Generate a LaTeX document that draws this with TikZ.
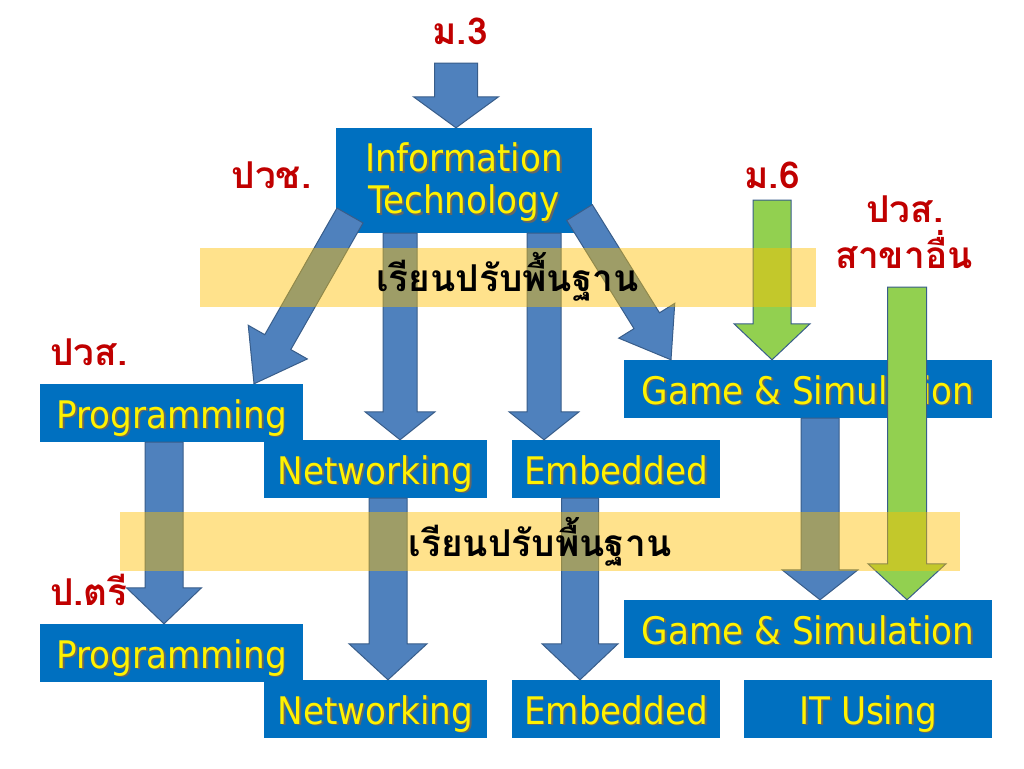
\documentclass[tikz,border=0pt]{standalone}
\usepackage{fontspec}
\usetikzlibrary{calc}
\newfontfamily\enfont[FakeStretch=0.9]{DejaVu Sans}
\newfontfamily\thaifont[Script=Thai]{Loma}
\definecolor{boxblue}{HTML}{0070C0}
\definecolor{arrblue}{HTML}{4F81BD}
\definecolor{arredge}{HTML}{385D8A}
\definecolor{arrgreen}{HTML}{92D050}
\definecolor{bandyel}{HTML}{FFC000}
\definecolor{lblred}{HTML}{C00000}
\newcommand\shd[1]{\leavevmode\rlap{\hspace{1.8pt}\raisebox{-1.8pt}{\textcolor{black!60}{#1}}}#1}
% #1 style, #2 tail, #3 tip, #4 half shaft, #5 half head, #6 head length
\newcommand\blockarrow[6]{%
  \coordinate (bxn) at ($(#3)!#6!(#2)$);
  \draw[#1] ($(#2)!#4!90:(#3)$) -- ($(bxn)!#4!90:(#3)$) -- ($(bxn)!#5!90:(#3)$) -- (#3)
    -- ($(bxn)!#5!-90:(#3)$) -- ($(bxn)!#4!-90:(#3)$) -- ($(#2)!#4!-90:(#3)$) -- cycle;}
\tikzset{
 box/.style={fill=boxblue, inner sep=0pt, text=yellow, font=\enfont\fontsize{38}{42}\selectfont, text height=30pt, text depth=0pt},
 barrow/.style={fill=arrblue, draw=arredge, line width=1pt, line join=miter},
 garrow/.style={fill=arrgreen, draw=arredge, line width=1pt, line join=miter},
 band/.style={fill=bandyel, fill opacity=0.45, draw=none, inner sep=0pt},
 bandtext/.style={font=\thaifont\bfseries\fontsize{37}{40}\selectfont, text=black, inner sep=0pt, anchor=base},
 redlbl/.style={font=\thaifont\bfseries\fontsize{37}{40}\selectfont, text=lblred, inner sep=0pt, anchor=base},
}
\begin{document}
\begin{tikzpicture}[x=1pt,y=-1pt]
\useasboundingbox (0,0) rectangle (1024,768);
\fill[white] (0,0) rectangle (1024,768);
% boxes
\node[box, minimum width=256pt, minimum height=105pt] (it) at (464,180.5) {};
\node[text=yellow, inner sep=0pt, align=center, font=\enfont\fontsize{38}{42}\selectfont] (ittext) at (464,183) {\shd{Information}\\\shd{Technology}};
\node[box, minimum width=263pt, minimum height=58pt] (prog1) at (171.5,413) {\shd{Programming}};
\node[box, minimum width=223pt, minimum height=58pt] (net1) at (375.5,469) {\shd{Networking}};
\node[box, minimum width=208pt, minimum height=58pt] (emb1) at (616,469) {\shd{Embedded}};
\node[box, minimum width=368pt, minimum height=58pt] (gs1) at (808,389) {\shd{Game \& Simulation}};
\node[box, minimum width=263pt, minimum height=58pt] (prog2) at (171.5,653) {\shd{Programming}};
\node[box, minimum width=223pt, minimum height=58pt] (net2) at (375.5,709) {\shd{Networking}};
\node[box, minimum width=208pt, minimum height=58pt] (emb2) at (616,709) {\shd{Embedded}};
\node[box, minimum width=368pt, minimum height=58pt] (gs2) at (808,629) {\shd{Game \& Simulation}};
\node[box, minimum width=248pt, minimum height=58pt] (itu) at (868,709) {\shd{IT Using}};
% arrow coordinates
\coordinate (a0s) at (456,63);   \coordinate (a0t) at (a0s |- it.north);
\coordinate (a1s) at (350,215.5); \coordinate (a1x) at (254,0); \coordinate (a1t) at (a1x |- prog1.north);
\coordinate (a2s) at (579.5,212.5); \coordinate (a2x) at (671,0); \coordinate (a2t) at (a2x |- gs1.north);
\coordinate (x3) at (400,0); \coordinate (a3s) at (x3 |- it.south); \coordinate (a3t) at (x3 |- net1.north);
\coordinate (x4) at (544,0); \coordinate (a4s) at (x4 |- it.south); \coordinate (a4t) at (x4 |- emb1.north);
\coordinate (x5) at (164,0); \coordinate (a5s) at (x5 |- prog1.south); \coordinate (a5t) at (x5 |- prog2.north);
\coordinate (x6) at (388,0); \coordinate (a6s) at (x6 |- net1.south); \coordinate (a6t) at (x6 |- net2.north);
\coordinate (x7) at (580,0); \coordinate (a7s) at (x7 |- emb1.south); \coordinate (a7t) at (x7 |- emb2.north);
\coordinate (x8) at (820,0); \coordinate (a8s) at (x8 |- gs1.south); \coordinate (a8t) at (x8 |- gs2.north);
\coordinate (a9s) at (772,200); \coordinate (a9t) at (a9s |- gs1.north);
\coordinate (a10s) at (907,287); \coordinate (a10t) at (a10s |- gs2.north);
% blue arrows
\blockarrow{barrow}{a0s}{a0t}{21.5pt}{42.5pt}{31pt}
\blockarrow{barrow}{a1s}{a1t}{15pt}{34pt}{48pt}
\blockarrow{barrow}{a2s}{a2t}{15pt}{33pt}{46pt}
\blockarrow{barrow}{a3s}{a3t}{17pt}{35pt}{28pt}
\blockarrow{barrow}{a4s}{a4t}{17pt}{35pt}{28pt}
\blockarrow{barrow}{a5s}{a5t}{19pt}{37.5pt}{36pt}
\blockarrow{barrow}{a6s}{a6t}{19pt}{39pt}{36pt}
\blockarrow{barrow}{a7s}{a7t}{18.5pt}{38pt}{36pt}
\blockarrow{barrow}{a8s}{a8t}{19pt}{38pt}{30pt}
% green arrows
\blockarrow{garrow}{a9s}{a9t}{19pt}{38pt}{36pt}
\blockarrow{garrow}{a10s}{a10t}{19.5pt}{39pt}{36pt}
% bands
\node[band, minimum width=616pt, minimum height=59pt] (band1) at (508,277.5) {};
\node[band, minimum width=840pt, minimum height=59pt] (band2) at (540,541.5) {};
\node[bandtext] (bt1) at (507.5,291) {เรียนปรับพื้นฐาน};
\node[bandtext] (bt2) at (540,556) {เรียนปรับพื้นฐาน};
% red labels
\node[redlbl] (m3) at (460,45) {ม.3};
\node[redlbl] (pvch) at (271.5,188) {ปวช.};
\node[redlbl] (m6) at (772,188) {ม.6};
\node[redlbl] (pvs2) at (905,222) {ปวส.};
\node[redlbl] (other) at (904,268) {สาขาอื่น};
\node[redlbl, anchor=base west] (pvs1) at (50,365) {ปวส.};
\node[redlbl, anchor=base west] (bach) at (50,605) {ป.ตรี};
\end{tikzpicture}
\end{document}
